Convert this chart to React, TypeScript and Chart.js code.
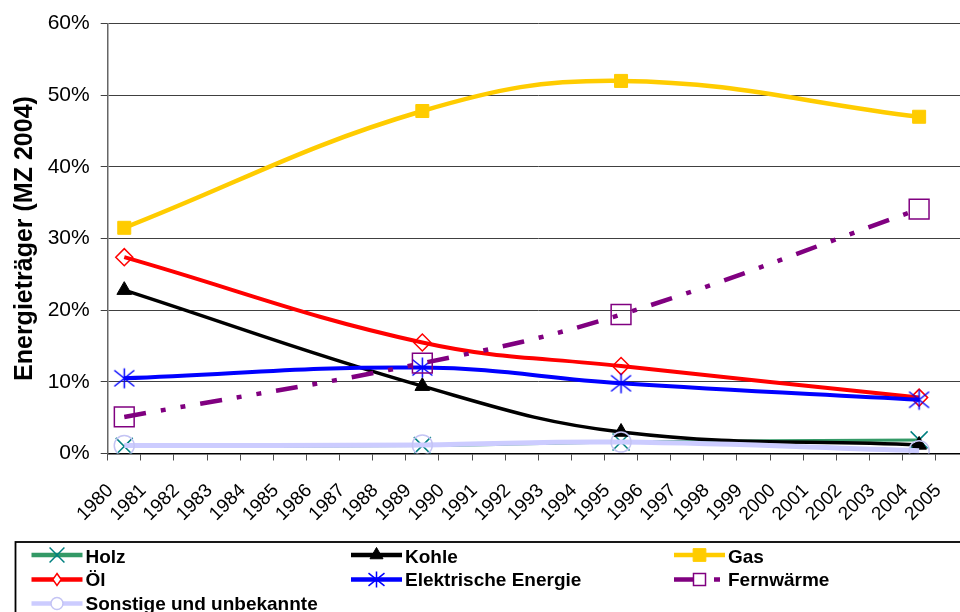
import React, { useEffect, useRef } from 'react';
import { Chart, registerables } from 'chart.js';

Chart.register(...registerables);

// ---- data ----
const YEARS = [
  '1980', '1981', '1982', '1983', '1984', '1985', '1986', '1987', '1988', '1989',
  '1990', '1991', '1992', '1993', '1994', '1995', '1996', '1997', '1998', '1999',
  '2000', '2001', '2002', '2003', '2004', '2005',
];
const SURVEY_YEARS = ['1980', '1989', '1995', '2004'];

const HOLZ = [1.0, 1.1, 1.6, 1.9];
const KOHLE = [22.8, 9.4, 3.0, 1.2];
const GAS = [31.5, 47.8, 52.0, 47.0];
const OEL = [27.4, 15.5, 12.2, 7.8];
const ELEKTRISCH = [10.5, 12.0, 9.8, 7.5];
const FERNWAERME = [5.1, 12.6, 19.4, 34.1];
const SONSTIGE = [1.1, 1.2, 1.6, 0.4];

const Y_MIN = 0;
const Y_MAX = 60;
const Y_STEP = 10;

const Y_TITLE = 'Energieträger (MZ 2004)';

const FONT = "'Liberation Sans', Arial, Helvetica, sans-serif";

function spread(values: number[]): (number | null)[] {
  const arr: (number | null)[] = YEARS.map(() => null);
  SURVEY_YEARS.forEach((y, i) => {
    arr[YEARS.indexOf(y)] = values[i];
  });
  return arr;
}

type MarkerKind = 'crossRot' | 'triangle' | 'rect' | 'rectRot' | 'star' | 'rectHollow' | 'circle';

interface SeriesDef {
  label: string;
  values: number[];
  color: string;
  width: number;
  dash: number[];
  legendDash: number[];
  marker: MarkerKind;
  markerColor: string;
  markerFill: string;
  markerRadius: number;
  markerLW: number;
  legendRadius: number;
  order: number;
}

const SERIES: SeriesDef[] = [
  { label: 'Holz', values: HOLZ, color: '#339966', width: 3, dash: [], legendDash: [], marker: 'crossRot', markerColor: '#008080', markerFill: 'rgba(0,0,0,0)', markerRadius: 12, markerLW: 1.5, legendRadius: 10.5, order: 6 },
  { label: 'Kohle', values: KOHLE, color: '#000000', width: 3.5, dash: [], legendDash: [], marker: 'triangle', markerColor: '#000000', markerFill: '#000000', markerRadius: 8.5, markerLW: 1, legendRadius: 7.5, order: 5 },
  { label: 'Gas', values: GAS, color: '#FFCC00', width: 4.5, dash: [], legendDash: [], marker: 'rect', markerColor: '#FFCC00', markerFill: '#FFCC00', markerRadius: 9.2, markerLW: 1, legendRadius: 9, order: 4 },
  { label: 'Öl', values: OEL, color: '#FF0000', width: 4, dash: [], legendDash: [], marker: 'rectRot', markerColor: '#FF0000', markerFill: 'rgba(0,0,0,0)', markerRadius: 8.5, markerLW: 1.5, legendRadius: 6, order: 3 },
  { label: 'Elektrische Energie', values: ELEKTRISCH, color: '#0000FF', width: 4, dash: [], legendDash: [], marker: 'star', markerColor: '#0000FF', markerFill: 'rgba(0,0,0,0)', markerRadius: 10, markerLW: 1.5, legendRadius: 8, order: 2 },
  { label: 'Fernwärme', values: FERNWAERME, color: '#800080', width: 4.5, dash: [22, 15, 5, 15, 5, 15], legendDash: [21, 19, 6, 100], marker: 'rectHollow', markerColor: '#800080', markerFill: 'rgba(0,0,0,0)', markerRadius: 14, markerLW: 1.5, legendRadius: 8.5, order: 1 },
  { label: 'Sonstige und unbekannte', values: SONSTIGE, color: '#CCCCFF', width: 5, dash: [], legendDash: [], marker: 'circle', markerColor: '#C4C4F4', markerFill: 'rgba(0,0,0,0)', markerRadius: 10, markerLW: 1.5, legendRadius: 6, order: 0 },
];

// ---- helpers ----
function makeStar(r: number, color: string, lw: number): HTMLCanvasElement {
  const size = Math.ceil(2 * r + lw * 2);
  const c = document.createElement('canvas');
  c.width = size;
  c.height = size;
  const g = c.getContext('2d')!;
  const m = size / 2;
  g.strokeStyle = color;
  g.lineWidth = lw;
  g.beginPath();
  g.moveTo(m - r, m - r * 0.8);
  g.lineTo(m + r, m + r * 0.8);
  g.moveTo(m + r, m - r * 0.8);
  g.lineTo(m - r, m + r * 0.8);
  g.moveTo(m, m - r);
  g.lineTo(m, m + r);
  g.stroke();
  return c;
}

function drawMarker(ctx: CanvasRenderingContext2D, s: SeriesDef, x: number, y: number, r: number) {
  ctx.save();
  ctx.setLineDash([]);
  ctx.lineWidth = s.markerLW;
  ctx.strokeStyle = s.markerColor;
  ctx.fillStyle = s.markerFill;
  ctx.beginPath();
  const d = r * Math.SQRT1_2;
  switch (s.marker) {
    case 'crossRot':
      ctx.moveTo(x - d, y - d); ctx.lineTo(x + d, y + d);
      ctx.moveTo(x + d, y - d); ctx.lineTo(x - d, y + d);
      ctx.stroke();
      break;
    case 'triangle':
      ctx.moveTo(x, y - r);
      ctx.lineTo(x + 0.866 * r, y + 0.5 * r);
      ctx.lineTo(x - 0.866 * r, y + 0.5 * r);
      ctx.closePath();
      ctx.fill(); ctx.stroke();
      break;
    case 'rect':
      ctx.rect(x - d, y - d, 2 * d, 2 * d);
      ctx.fill(); ctx.stroke();
      break;
    case 'rectHollow':
      ctx.fillStyle = '#fff';
      ctx.rect(x - d, y - d, 2 * d, 2 * d);
      ctx.fill(); ctx.stroke();
      break;
    case 'rectRot':
      ctx.fillStyle = '#fff';
      ctx.moveTo(x, y - r); ctx.lineTo(x + r * 0.7, y); ctx.lineTo(x, y + r); ctx.lineTo(x - r * 0.7, y);
      ctx.closePath();
      ctx.fill(); ctx.stroke();
      break;
    case 'circle':
      ctx.fillStyle = '#fff';
      ctx.arc(x, y, r, 0, Math.PI * 2);
      ctx.fill(); ctx.stroke();
      break;
    case 'star':
      ctx.moveTo(x - r, y - r * 0.8); ctx.lineTo(x + r, y + r * 0.8);
      ctx.moveTo(x + r, y - r * 0.8); ctx.lineTo(x - r, y + r * 0.8);
      ctx.moveTo(x, y - r); ctx.lineTo(x, y + r);
      ctx.stroke();
      break;
  }
  ctx.restore();
}

// legend positions (columns / rows)
const LEGEND_COLS = [31.5, 351, 674];
const LEGEND_LINE_Y = [555, 579.5, 603.5];
const LEGEND_TEXT_Y = [562.7, 586.3, 610];

const legendPlugin = {
  id: 'excelLegend',
  afterDraw(chart: any) {
    const ctx: CanvasRenderingContext2D = chart.ctx;
    ctx.save();
    // box
    ctx.fillStyle = '#fff';
    ctx.fillRect(15.5, 542, 1000, 100);
    ctx.strokeStyle = '#000';
    ctx.lineWidth = 1.8;
    ctx.strokeRect(15.5, 542, 1000, 100);

    SERIES.forEach((s, i) => {
      const col = i % 3;
      const row = Math.floor(i / 3);
      const x0 = LEGEND_COLS[col];
      const ly = LEGEND_LINE_Y[row];
      // line sample
      ctx.save();
      ctx.strokeStyle = s.color;
      ctx.lineWidth = 4.5;
      ctx.setLineDash(s.legendDash);
      ctx.beginPath();
      ctx.moveTo(x0, ly);
      ctx.lineTo(x0 + 51, ly);
      ctx.stroke();
      ctx.restore();
      drawMarker(ctx, s, x0 + 25.5, ly, s.legendRadius);
      // text
      ctx.fillStyle = '#000';
      ctx.textAlign = 'left';
      ctx.textBaseline = 'alphabetic';
      ctx.font = `bold 19px ${FONT}`;
      ctx.fillText(s.label, x0 + 54, LEGEND_TEXT_Y[row]);
    });
    ctx.restore();
  },
};

export default function App() {
  const ref = useRef<HTMLCanvasElement>(null);

  useEffect(() => {
    if (!ref.current) return;
    const datasets = SERIES.map((s) => ({
      label: s.label,
      data: spread(s.values),
      borderColor: s.color,
      backgroundColor: s.color,
      borderWidth: s.width,
      borderDash: s.dash,
      borderCapStyle: 'butt' as const,
      borderJoinStyle: 'round' as const,
      tension: 0.4,
      spanGaps: true,
      fill: false,
      order: s.order,
      pointStyle: s.marker === 'star' ? makeStar(s.markerRadius, s.markerColor, s.markerLW)
        : s.marker === 'rectHollow' ? 'rect' : s.marker,
      pointRadius: s.markerRadius,
      pointBorderColor: s.markerColor,
      pointBackgroundColor: s.markerFill,
      pointBorderWidth: s.markerLW,
      pointHoverRadius: s.markerRadius,
    }));

    const chart = new Chart(ref.current, {
      type: 'line',
      data: { labels: YEARS, datasets: datasets as any },
      plugins: [legendPlugin],
      options: {
        animation: false,
        responsive: false,
        maintainAspectRatio: false,
        events: [],
        layout: { padding: { left: 0, top: 22.7, right: 31.2, bottom: 0 } },
        plugins: {
          legend: { display: false },
          tooltip: { enabled: false },
          title: { display: false },
        },
        scales: {
          x: {
            type: 'category',
            offset: true,
            grid: {
              offset: true,
              drawOnChartArea: false,
              drawTicks: true,
              tickLength: 7,
              color: '#505050',
              lineWidth: 1,
            },
            border: { display: true, color: '#000', width: 1.5 },
            ticks: {
              autoSkip: false,
              maxRotation: 45,
              minRotation: 45,
              padding: 19,
              labelOffset: -14,
              color: '#000',
              font: { family: FONT, size: 19 },
            },
            afterFit: (scale: any) => {
              scale.height = 612 - 453.5;
            },
          },
          y: {
            min: Y_MIN,
            max: Y_MAX,
            grid: {
              color: '#404040',
              lineWidth: 1,
              drawTicks: true,
              tickLength: 7,
            },
            border: { display: true, color: '#666', width: 1.5 },
            ticks: {
              stepSize: Y_STEP,
              padding: 11,
              color: '#000',
              font: { family: FONT, size: 21 },
              callback: (v: any) => `${v}%`,
            },
            title: {
              display: true,
              text: Y_TITLE,
              color: '#000',
              font: { family: FONT, size: 25, weight: 'bold' },
              padding: { top: 10, bottom: 0 },
            },
            afterFit: (scale: any) => {
              scale.width = 107.7;
            },
          },
        },
      } as any,
    });
    return () => chart.destroy();
  }, []);

  return (
    <div
      style={{
        position: 'fixed',
        left: 0,
        top: 0,
        width: 960,
        height: 612,
        overflow: 'hidden',
        background: '#fff',
      }}
    >
      <canvas ref={ref} width={1000} height={612} style={{ display: 'block', width: 1000, height: 612 }} />
    </div>
  );
}
